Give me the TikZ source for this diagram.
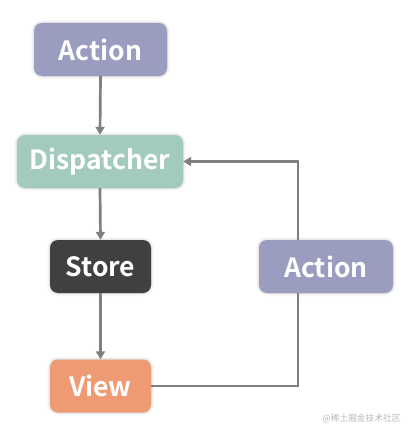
\documentclass[tikz,border=0pt]{standalone}
\usepackage{fontspec}
\setmainfont{Noto Sans CJK SC}[BoldFont={Noto Sans CJK SC Bold}]
\newfontfamily\cjk{Noto Sans CJK SC}
\usetikzlibrary{arrows.meta,shadows.blur}
\definecolor{actc}{HTML}{9A9DBF}
\definecolor{dispc}{HTML}{A3CBBD}
\definecolor{storec}{HTML}{404040}
\definecolor{viewc}{HTML}{EE9A72}
\definecolor{linec}{HTML}{7F7F7F}
\definecolor{wmc}{HTML}{B8B8B8}
\tikzset{
  box/.style={rounded corners=8pt, inner sep=0pt, minimum height=53pt,
    text=white, font=\fontsize{26.5}{28}\selectfont\bfseries,
    blur shadow={shadow xshift=0pt, shadow yshift=0pt, shadow blur radius=3pt, shadow opacity=25}},
  conn/.style={draw=linec, line width=2.7pt},
  arr/.style={conn, -{Triangle[length=8pt,width=9pt]}}
}
\begin{document}
\begin{tikzpicture}[x=1pt,y=-1pt]
\useasboundingbox (0,0) rectangle (416,436);
\node[box, fill=actc, minimum width=133pt] (a1) at (100.5,49.5) {Action};
\node[box, fill=dispc, minimum width=166pt] (d) at (100,161.5) {Dispatcher};
\node[box, fill=storec, minimum width=101pt] (s) at (100.5,266.5) {Store};
\node[box, fill=viewc, minimum width=101pt] (v) at (100.5,386) {View};
\node[box, fill=actc, minimum width=134pt] (a2) at (326,266.5) {Action};
\coordinate (c1) at (298,0);
\node[text=wmc, font=\cjk\fontsize{8.7}{10}\selectfont, anchor=east] (wm) at (404,419) {@稀土掘金技术社区};
\draw[arr] (a1.south) -- (d.north);
\draw[arr] (d.south) -- (s.north);
\draw[arr] (s.south) -- (v.north);
\draw[conn] (v.east) -- (v.east -| c1) -- (a2.south -| c1);
\draw[arr] (a2.north -| c1) -- (c1 |- d.east) -- (d.east);
\end{tikzpicture}
\end{document}
